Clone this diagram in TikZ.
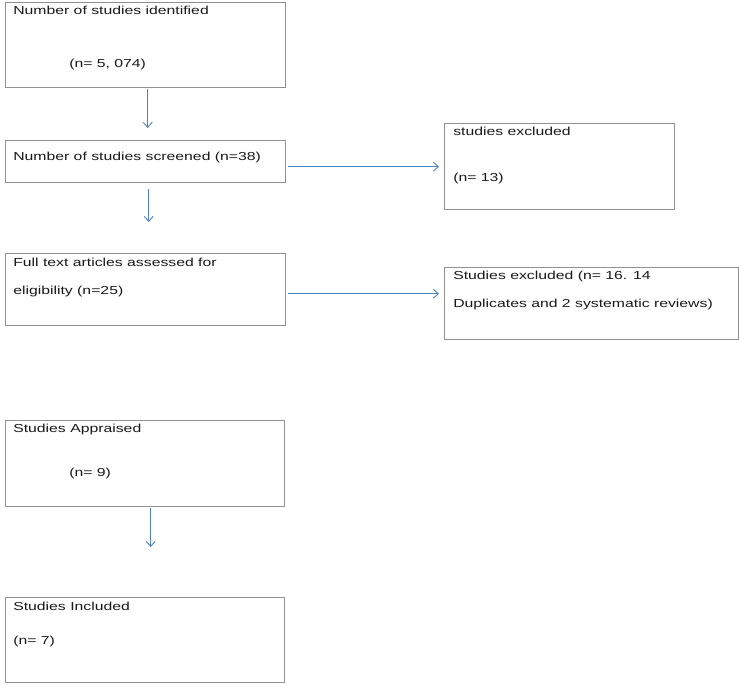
\documentclass[tikz,border=0pt]{standalone}
\usepackage{fontspec}
\setmainfont{Liberation Sans}
\usepackage{tikz}
\usetikzlibrary{arrows.meta, calc}

\definecolor{boxgray}{RGB}{145,145,145}
\definecolor{arrowblue}{RGB}{79,129,189}

\begin{document}
\begin{tikzpicture}[
    x=1pt, y=-1pt,
    box/.style={draw=boxgray, line width=1.4pt, rectangle, inner sep=0pt, anchor=north west},
    txt/.style={anchor=base west, inner sep=0pt, font=\fontsize{11.6}{14}\selectfont, text=black!90, xscale=1.36},
    arrow/.style={draw=arrowblue, line width=0.9pt, -{Straight Barb[length=5pt,width=9pt]}}
]
\useasboundingbox (0,0) rectangle (739,686);

% boxes
\node (identified) [box, minimum width=280pt, minimum height=85pt] at (5,2) {};
\node (screened) [box, minimum width=280pt, minimum height=42pt] at (5,140) {};
\node (excluded1) [box, minimum width=230pt, minimum height=86pt] at (444,123) {};
\node (eligible) [box, minimum width=280pt, minimum height=72pt] at (5,253) {};
\node (excluded2) [box, minimum width=294pt, minimum height=72pt] at (444,267) {};
\node (appraised) [box, minimum width=279pt, minimum height=86pt] at (5,420) {};
\node (included) [box, minimum width=279pt, minimum height=85pt] at (5,597) {};

% texts
\node (identified-t1) [txt] at (13,14) {Number of studies identified};
\node (identified-t2) [txt] at (69,67) {(n= 5, 074)};
\node (screened-t) [txt] at (13,160) {Number of studies screened (n=38)};
\node (excluded1-t1) [txt] at (453,135) {studies excluded};
\node (excluded1-t2) [txt] at (453,181) {(n= 13)};
\node (eligible-t1) [txt] at (13,266) {Full text articles assessed for};
\node (eligible-t2) [txt] at (13,294) {eligibility (n=25)};
\node (excluded2-t1) [txt] at (453,279) {Studies excluded (n= 16. 14};
\node (excluded2-t2) [txt] at (453,307) {Duplicates and 2 systematic reviews)};
\node (appraised-t1) [txt] at (13,432) {Studies Appraised};
\node (appraised-t2) [txt] at (69,476) {(n= 9)};
\node (included-t1) [txt] at (13,610) {Studies Included};
\node (included-t2) [txt] at (13,644) {(n= 7)};

% arrows
\draw[arrow, shorten <=1pt, shorten >=12pt] ([xshift=2pt]identified.south) -- ([xshift=2pt]identified.south |- screened.north);
\draw[arrow, shorten <=6pt, shorten >=31pt] ([xshift=3pt]screened.south) -- ([xshift=3pt]screened.south |- eligible.north);
\draw[arrow, shorten <=2pt, shorten >=5pt] ([yshift=-5pt]screened.east) -- (excluded1.west);
\draw[arrow, shorten <=2pt, shorten >=5pt] ([yshift=-4pt]eligible.east) -- ([yshift=-4pt]eligible.east -| excluded2.west);
\draw[arrow, shorten <=1pt, shorten >=50pt] ([xshift=5.5pt]appraised.south) -- ([xshift=5.5pt]appraised.south |- included.north);

\end{tikzpicture}
\end{document}
